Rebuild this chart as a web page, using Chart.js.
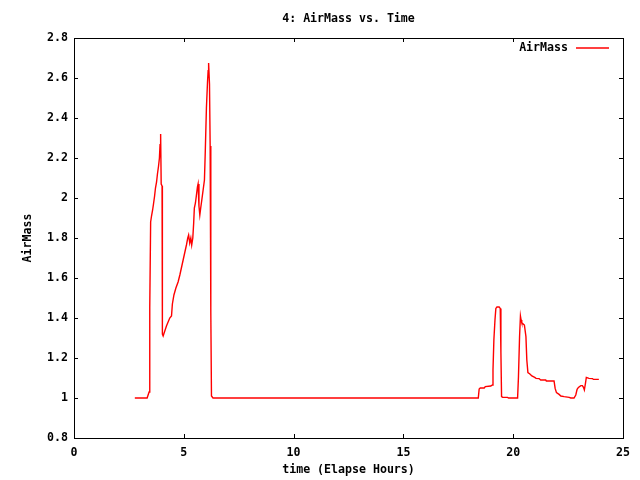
<!DOCTYPE html>
<html>
<head>
<meta charset="utf-8">
<script src="https://cdn.jsdelivr.net/npm/chart.js@4"></script>
<style>
  html, body { margin: 0; padding: 0; background: #fff; }
  #wrap { width: 640px; height: 480px; }
</style>
</head>
<body>
<div id="wrap"><canvas id="chart" width="640" height="480"></canvas></div>
<script>
(function () {
  "use strict";

  const TITLE = "4: AirMass vs. Time";
  const X_TITLE = "time (Elapse Hours)";
  const Y_TITLE = "AirMass";
  const SERIES_LABEL = "AirMass";

  const X_TICKS = [0, 5, 10, 15, 20, 25];
  const Y_TICKS = [0.8, 1, 1.2, 1.4, 1.6, 1.8, 2, 2.2, 2.4, 2.6, 2.8];

  const TIME_HOURS = [
    2.77, 3.33, 3.42, 3.45, 3.49, 3.53, 3.58, 3.62, 3.67, 3.71, 3.76, 3.80, 3.85, 3.89,
    3.92, 3.94, 3.95, 3.97, 4.01, 4.02, 4.03, 4.06, 4.21, 4.36, 4.44, 4.48, 4.55, 4.64,
    4.74, 4.82, 4.91, 4.97, 5.05, 5.12, 5.18, 5.22, 5.27, 5.32, 5.36, 5.41, 5.45, 5.48,
    5.53, 5.57, 5.62, 5.65, 5.69, 5.73, 5.77, 5.82, 5.88, 5.94, 5.98, 6.03, 6.08, 6.11,
    6.12, 6.14, 6.17, 6.20, 6.23, 6.26, 6.33,
    18.41, 18.45, 18.50, 18.68, 18.73, 18.98, 19.05, 19.08, 19.12, 19.17, 19.21, 19.26,
    19.36, 19.41, 19.44, 19.47, 19.52, 19.74, 19.79, 20.20, 20.24, 20.29, 20.33, 20.36,
    20.39, 20.42, 20.51, 20.58, 20.62, 20.67, 20.76, 20.85, 20.98, 21.04, 21.18, 21.25,
    21.48, 21.51, 21.86, 21.91, 21.97, 22.09, 22.17, 22.32, 22.55, 22.62, 22.77, 22.85,
    22.91, 22.97, 23.08, 23.15, 23.20, 23.24, 23.29, 23.33, 23.45, 23.61, 23.65, 23.90,
  ];

  const AIRMASS = [
    1.0, 1.0, 1.03, 1.45, 1.88, 1.91, 1.94, 1.97, 2.01, 2.05, 2.08, 2.12, 2.16, 2.20,
    2.27, 2.21, 2.32, 2.07, 2.06, 1.56, 1.32, 1.31, 1.36, 1.40, 1.41, 1.47, 1.515, 1.55,
    1.58, 1.615, 1.66, 1.69, 1.73, 1.765, 1.80, 1.815, 1.775, 1.80, 1.765, 1.80, 1.875, 1.95,
    1.975, 2.01, 2.055, 2.07, 1.96, 1.915, 1.95, 1.99, 2.04, 2.09, 2.24, 2.45, 2.58, 2.64,
    2.60, 2.675, 2.57, 2.26, 1.43, 1.01, 1.0,
    1.0, 1.045, 1.05, 1.05, 1.057, 1.06, 1.065, 1.14, 1.29, 1.39, 1.448, 1.455,
    1.455, 1.448, 1.23, 1.007, 1.003, 1.003, 1.0, 1.0, 1.107, 1.307, 1.41, 1.39,
    1.377, 1.373, 1.365, 1.307, 1.19, 1.127, 1.12, 1.11, 1.103, 1.098, 1.097, 1.09,
    1.09, 1.085, 1.085, 1.048, 1.027, 1.018, 1.01, 1.007, 1.003, 1.0, 1.0, 1.015,
    1.043, 1.053, 1.062, 1.062, 1.053, 1.04, 1.073, 1.103, 1.098, 1.097, 1.093, 1.093,
  ];

  const FONT = "bold 11.6px 'DejaVu Sans Mono', monospace";
  const TICK_LEN = 4;

  function fmt(v) {
    return String(Number(v.toFixed(1)));
  }

  const decor = {
    id: "gnuplotDecor",
    afterDatasetsDraw(chart) {
      const { ctx, chartArea: a, scales } = chart;
      const xs = scales.x;
      const ys = scales.y;
      ctx.save();
      ctx.strokeStyle = "#000";
      ctx.lineWidth = 1;
      ctx.beginPath();
      X_TICKS.forEach((v) => {
        const px = Math.round(xs.getPixelForValue(v)) + 0.5;
        ctx.moveTo(px, a.bottom);
        ctx.lineTo(px, a.bottom - TICK_LEN);
        ctx.moveTo(px, a.top);
        ctx.lineTo(px, a.top + TICK_LEN);
      });
      Y_TICKS.forEach((v) => {
        const py = Math.round(ys.getPixelForValue(v)) + 0.5;
        ctx.moveTo(a.left, py);
        ctx.lineTo(a.left + TICK_LEN, py);
        ctx.moveTo(a.right, py);
        ctx.lineTo(a.right - TICK_LEN, py);
      });
      ctx.stroke();
      ctx.strokeRect(Math.round(a.left) + 0.5, Math.round(a.top) + 0.5,
        Math.round(a.right - a.left), Math.round(a.bottom - a.top));

      ctx.fillStyle = "#000";
      ctx.font = FONT;
      ctx.textBaseline = "middle";
      ctx.textAlign = "center";
      const cx = (a.left + a.right) / 2;
      ctx.fillText(TITLE, cx, 19);
      ctx.fillText(X_TITLE, cx, 470);

      ctx.save();
      ctx.translate(28, (a.top + a.bottom) / 2);
      ctx.rotate(-Math.PI / 2);
      ctx.fillText(Y_TITLE, 0, 0);
      ctx.restore();

      // legend, gnuplot style: text then sample line
      ctx.textAlign = "right";
      ctx.fillText(SERIES_LABEL, 568, 48);
      ctx.strokeStyle = "#ff0000";
      ctx.lineWidth = 1.4;
      ctx.beginPath();
      ctx.moveTo(576, 48);
      ctx.lineTo(609, 48);
      ctx.stroke();
      ctx.restore();
    },
  };

  const points = TIME_HOURS.map((t, i) => ({ x: t, y: AIRMASS[i] }));

  new Chart(document.getElementById("chart"), {
    type: "line",
    data: {
      datasets: [{
        label: SERIES_LABEL,
        data: points,
        borderColor: "#ff0000",
        borderWidth: 1.4,
        pointRadius: 0,
        tension: 0,
        fill: false,
      }],
    },
    options: {
      responsive: false,
      animation: false,
      devicePixelRatio: 1,
      layout: { padding: { left: 0, top: 38, right: 17, bottom: 0 } },
      plugins: {
        legend: { display: false },
        title: { display: false },
        tooltip: { enabled: false },
      },
      scales: {
        x: {
          type: "linear",
          min: 0,
          max: 25,
          afterBuildTicks(scale) {
            scale.ticks = X_TICKS.map((v) => ({ value: v }));
          },
          afterFit(scale) {
            scale.height = 42;
          },
          grid: { display: false, drawTicks: false },
          border: { display: false },
          ticks: {
            color: "#000",
            font: { family: "'DejaVu Sans Mono', monospace", size: 11.6, weight: "bold" },
            padding: 8,
            maxRotation: 0,
            callback: (v) => fmt(v),
          },
        },
        y: {
          type: "linear",
          min: 0.8,
          max: 2.8,
          afterBuildTicks(scale) {
            scale.ticks = Y_TICKS.map((v) => ({ value: v }));
          },
          afterFit(scale) {
            scale.width = 74;
          },
          grid: { display: false, drawTicks: false },
          border: { display: false },
          ticks: {
            color: "#000",
            font: { family: "'DejaVu Sans Mono', monospace", size: 11.6, weight: "bold" },
            padding: 6,
            callback: (v) => fmt(v),
          },
        },
      },
    },
    plugins: [decor],
  });
})();
</script>
</body>
</html>
